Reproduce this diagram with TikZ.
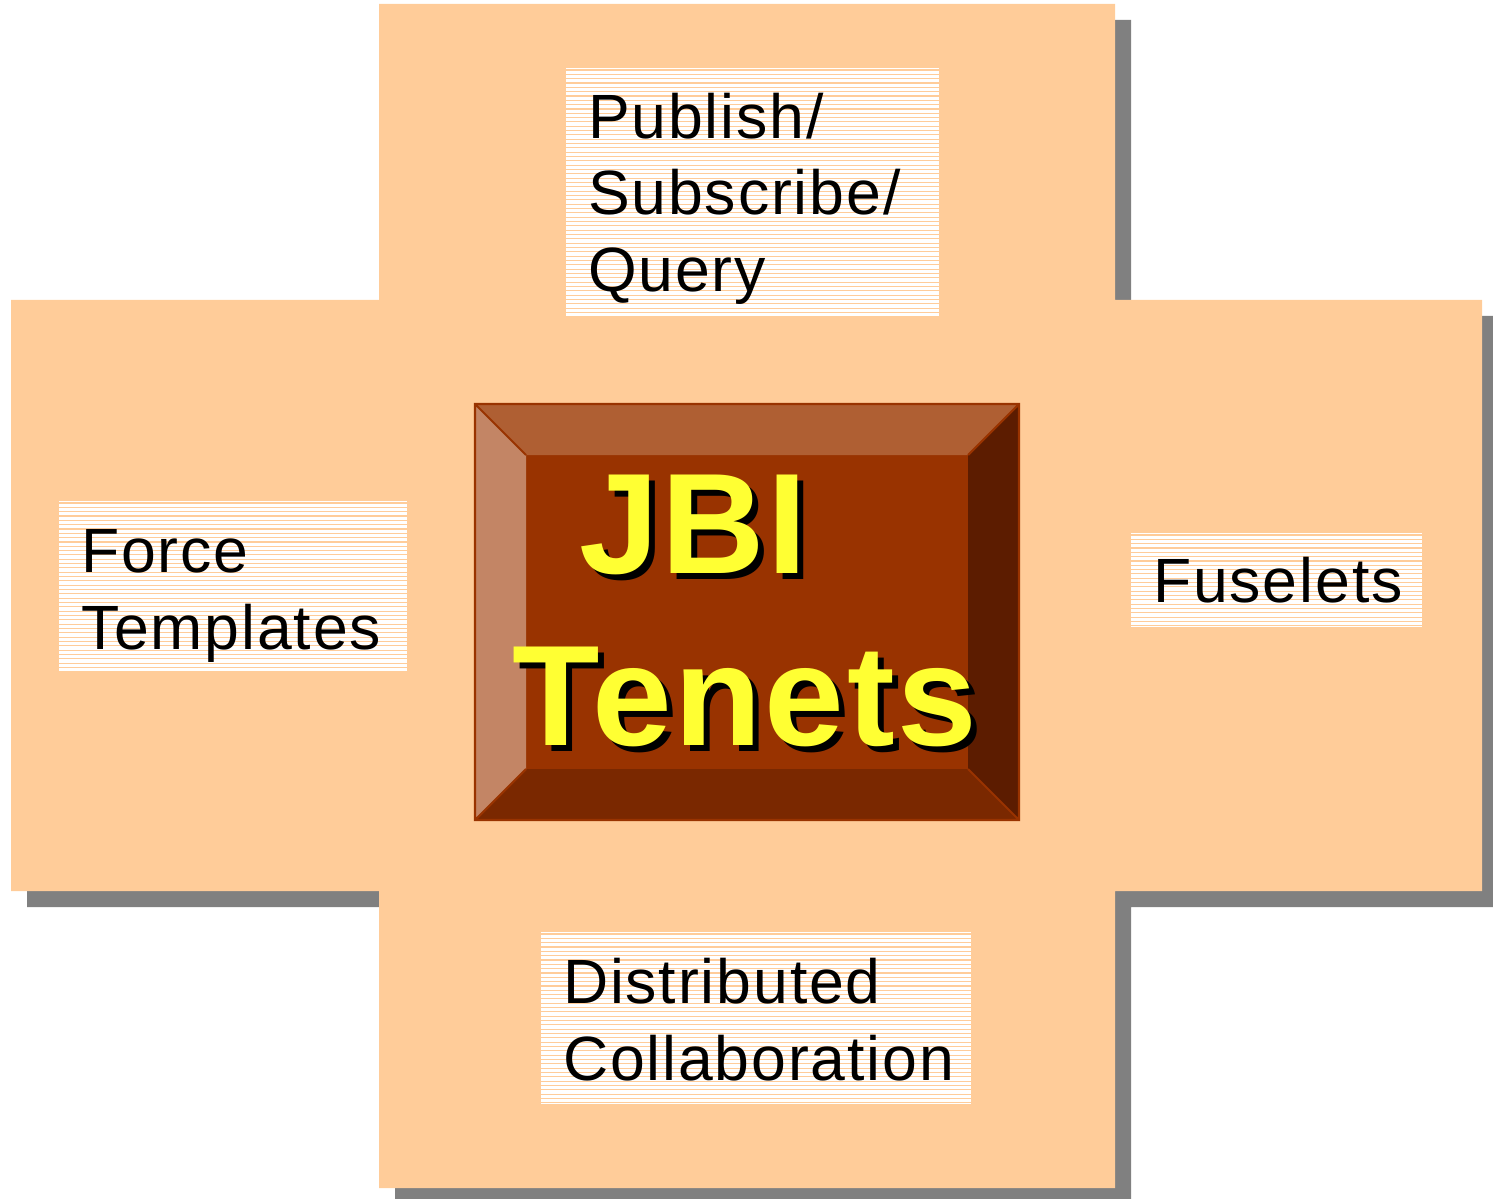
\documentclass[tikz,border=0pt]{standalone}
\usepackage{fontspec}
\setmainfont{Liberation Sans}[LetterSpace=3]
\newfontfamily\titlefont{Liberation Sans}[LetterSpace=2]
\usetikzlibrary{positioning}

\definecolor{peach}{HTML}{FFCC99}
\definecolor{shadowgray}{HTML}{808080}
\definecolor{bevelinner}{HTML}{993300}
\definecolor{beveltop}{HTML}{AF5F33}
\definecolor{bevelleft}{HTML}{C38565}
\definecolor{bevelright}{HTML}{5C1C00}
\definecolor{bevelbottom}{HTML}{7A2800}
\definecolor{titleyellow}{HTML}{FFFF33}

\newcommand\shadowed[1]{\makebox[0pt][l]{\kern3.4pt\raisebox{-3.4pt}{\color{black}#1}}#1}

\tikzset{
  tenetbox/.style={fill=white, align=left, inner xsep=0.44cm, inner ysep=0pt,
    font=\fontsize{35.6}{43.7}\selectfont,
    path picture={\foreach \k in {0,...,58}
      \draw[peach, line width=0.6pt] ([yshift={-(0.04+\k*0.0866)*1cm}]path picture bounding box.north west) -- ++(10cm,0);}},
  titletext/.style={font=\titlefont\bfseries\fontsize{81.5}{97.5}\selectfont,
    text=titleyellow, inner sep=0pt}
}

\begin{document}
\begin{tikzpicture}[x=0.02cm, y=-0.02cm]
        \useasboundingbox (0,0) rectangle (1493,1199);
        % cross with its shadow
        \foreach \dx/\col in {16/shadowgray, 0/peach}
          \fill[\col, shift={(\dx,\dx)}] (379,4) -- (1115,4) -- (1115,300) -- (1482,300)
            -- (1482,891) -- (1115,891) -- (1115,1188) -- (379,1188) -- (379,891)
            -- (11,891) -- (11,300) -- (379,300) -- cycle;
        % bevelled button
        \fill[bevelinner] (526,455) rectangle (968,769);
        \fill[beveltop] (475,404) -- (1019,404) -- (968,455) -- (526,455) -- cycle;
        \fill[bevelleft] (475,404) -- (526,455) -- (526,769) -- (475,820) -- cycle;
        \fill[bevelright] (1019,404) -- (1019,820) -- (968,769) -- (968,455) -- cycle;
        \fill[bevelbottom] (475,820) -- (526,769) -- (968,769) -- (1019,820) -- cycle;
        \draw[bevelinner, line width=1.2pt] (475,404) rectangle (1019,820)
          (475,404) -- (526,455) (1019,404) -- (968,455)
          (475,820) -- (526,769) (1019,820) -- (968,769);
        \node[titletext, align=left, anchor=north west] (title) at (512,475)
          {\hspace*{38pt}\shadowed{JBI}\\\shadowed{Tenets}};
        % the four tenets
        \node[tenetbox, text width=6.58cm, minimum height=4.98cm] (pubsub) at (752.5,192.5) {\rule{0pt}{33pt}Publish/\\Subscribe/\\Query};
        \node[tenetbox, text width=6.08cm, minimum height=3.4cm] (force) at (233,586) {\rule{0pt}{36pt}Force\\Templates};
        \node[tenetbox, text width=4.94cm, minimum height=1.88cm] (fuselets) at (1276.5,580) {Fuselets};
        \node[tenetbox, text width=7.72cm, minimum height=3.44cm] (collab) at (756,1018) {\rule{0pt}{28pt}Distributed\\Collaboration};
\end{tikzpicture}
\end{document}
